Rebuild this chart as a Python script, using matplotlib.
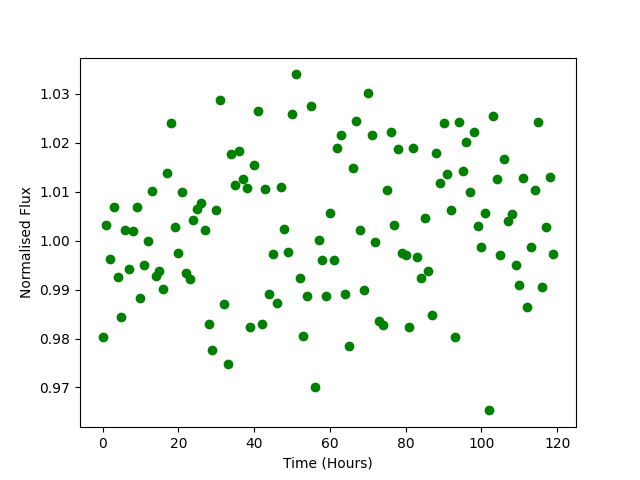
import numpy as np
import matplotlib
matplotlib.use('Agg')
import matplotlib.pyplot as plt

# Tempo em horas (uma medida por hora)
time_hours = list(range(120))

# Fluxo normalizado
flux = [
    0.9804, 1.0033, 0.9963, 1.0069, 0.9925, 0.9843, 1.0021, 0.9942, 1.0019, 1.0069,
    0.9882, 0.9950, 1.0000, 1.0101, 0.9927, 0.9938, 0.9901, 1.0138, 1.0240, 1.0028,
    0.9974, 1.0099, 0.9934, 0.9921, 1.0043, 1.0064, 1.0078, 1.0021, 0.9830, 0.9777,
    1.0062, 1.0287, 0.9871, 0.9747, 1.0177, 1.0113, 1.0183, 1.0126, 1.0107, 0.9823,
    1.0154, 1.0265, 0.9830, 1.0105, 0.9892, 0.9972, 0.9873, 1.0110, 1.0023, 0.9976,
    1.0260, 1.0340, 0.9923, 0.9806, 0.9887, 1.0275, 0.9701, 1.0002, 0.9961, 0.9887,
    1.0056, 0.9961, 1.0189, 1.0217, 0.9890, 0.9785, 1.0148, 1.0244, 1.0021, 0.9900,
    1.0301, 1.0217, 0.9998, 0.9835, 0.9828, 1.0103, 1.0222, 1.0033, 1.0187, 0.9974,
    0.9970, 0.9824, 1.0189, 0.9966, 0.9923, 1.0047, 0.9939, 0.9849, 1.0179, 1.0117,
    1.0240, 1.0136, 1.0062, 0.9804, 1.0242, 1.0142, 1.0201, 1.0099, 1.0222, 1.0031,
    0.9988, 1.0056, 0.9653, 1.0254, 1.0127, 0.9970, 1.0168, 1.0041, 1.0054, 0.9951,
    0.9910, 1.0129, 0.9865, 0.9988, 1.0103, 1.0242, 0.9906, 1.0027, 1.0131, 0.9972,
]

fig = plt.figure(figsize=(6.4, 4.8), dpi=100)
plt.scatter(time_hours, flux, color='green')
plt.xlabel('Time (Hours)')
plt.ylabel('Normalised Flux')
plt.savefig('out.png')
